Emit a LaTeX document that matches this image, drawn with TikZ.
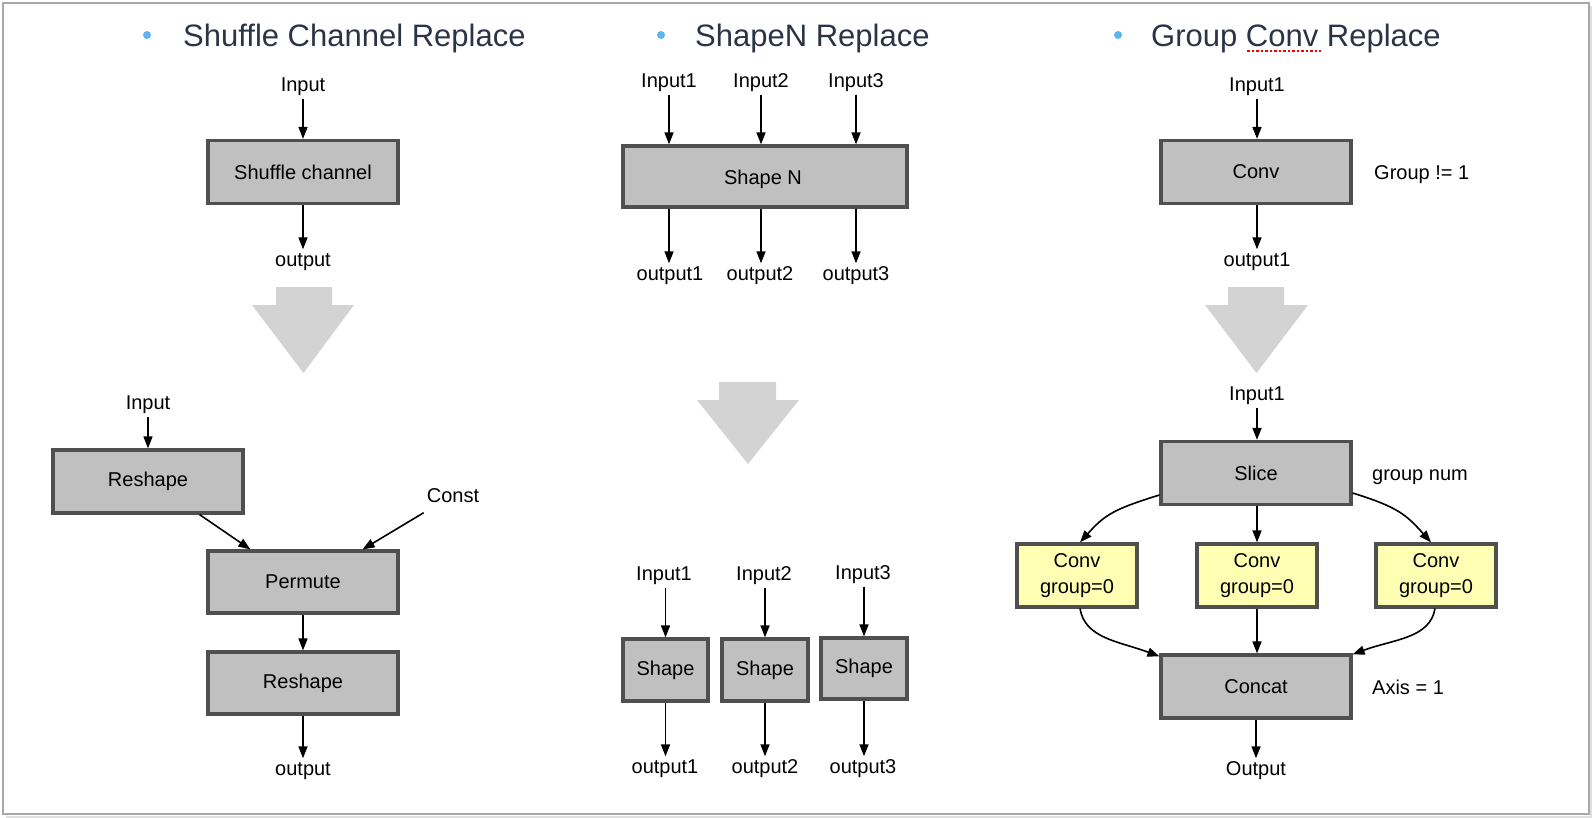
\documentclass[tikz,border=0pt]{standalone}
\usepackage{fontspec}
\setmainfont{Liberation Sans}
\usetikzlibrary{arrows.meta}
\definecolor{boxfill}{HTML}{C0C0C0}
\definecolor{boxline}{HTML}{4F4F4F}
\definecolor{yelfill}{HTML}{FFFFB3}
\definecolor{bigarrow}{HTML}{D3D3D3}
\definecolor{titlecol}{HTML}{2B3447}
\definecolor{bulletcol}{HTML}{5BB5F2}
\definecolor{framecol}{HTML}{A8A8A8}
\newcommand{\labsize}{\fontsize{20}{24}\selectfont}
\newcommand{\titsize}{\fontsize{31}{36}\selectfont}
\tikzset{
  opbox/.style={draw=boxline, fill=boxfill, line width=3.2pt, inner sep=0pt,
    minimum width=190pt, minimum height=63pt, font=\labsize, align=center},
  yelbox/.style={opbox, fill=yelfill, minimum width=120pt, minimum height=63pt},
  lbl/.style={font=\labsize, text height=14pt, text depth=4pt, inner sep=3pt, yshift=-2.5pt},
  sidelbl/.style={lbl, anchor=west, inner sep=0pt},
  arr/.style={-{Triangle[length=12pt,width=9pt]}, line width=1.6pt, black},
  bigarr/.style={fill=bigarrow, draw=none},
  titletext/.style={font=\titsize, text=titlecol, anchor=base west, inner sep=0pt},
  bulletdot/.style={fill=bulletcol},
}
\begin{document}
\begin{tikzpicture}[x=1pt, y=-1pt]
\useasboundingbox (0,0) rectangle (1592,818);
% frame with shadow
\draw[gray!25, line width=2.5pt] (6,817) -- (1591.5,817) -- (1591.5,6);
\draw[framecol, line width=1.6pt] (3,3) rectangle (1589,814);

% titles
\fill[bulletdot] (147,35) circle (4pt);
\node[titletext] (t1) at (183,47) {Shuffle Channel Replace};
\fill[bulletdot] (661,35) circle (4pt);
\node[titletext] (t2) at (695,47) {ShapeN Replace};
\fill[bulletdot] (1118,35) circle (4pt);
\node[titletext] (t3) at (1151,47) {Group Conv Replace};
\draw[red, line width=1.6pt, dash pattern=on 2.5pt off 2pt] (1247,51) -- (1321,51);

% ===== Panel 1: Shuffle Channel =====
\node[lbl] (p1in) at (303,84) {Input};
\node[opbox] (shuf) at (303,172) {Shuffle channel};
\node[lbl] (p1out) at (303,259) {output};
\draw[arr] (p1in) -- (shuf);
\draw[arr] (shuf) -- (p1out);
\fill[bigarr] (276,287) -- (332,287) -- (332,305) -- (354,305) -- (303.5,373) -- (252,305) -- (276,305) -- cycle;

\node[lbl] (p1bin) at (148,402) {Input};
\node[opbox] (resh1) at (148,481.5) {Reshape};
\node[lbl] (const) at (453,495) {Const};
\node[opbox, minimum height=62pt] (perm) at (303,582) {Permute};
\node[opbox, minimum height=62pt] (resh2) at (303,683) {Reshape};
\node[lbl] (p1bout) at (303,768) {output};
\draw[arr] (p1bin) -- (resh1);
\draw[arr] ([xshift=-45pt]resh1.south east) -- ([xshift=44pt]perm.north west);
\draw[arr] ([yshift=-3pt]const.south west) -- ([xshift=-37pt]perm.north east);
\draw[arr] (perm) -- (resh2);
\draw[arr] (resh2) -- (p1bout);

% ===== Panel 2: ShapeN =====
\node[lbl] (sin1) at (669,80) {Input1};
\node[lbl] (sin2) at (761,80) {Input2};
\node[lbl] (sin3) at (856,80) {Input3};
\node[opbox, minimum width=284pt, minimum height=61pt] (shapen) at (765,176.5) {};
\node[lbl] (shapentxt) at (763,177) {Shape N};
\node[lbl] (sout1) at (670,273) {output1};
\node[lbl] (sout2) at (760,273) {output2};
\node[lbl] (sout3) at (856,273) {output3};
\foreach \i in {1,2,3}{
  \draw[arr] (sin\i.south) -- (sin\i.south |- shapen.north);
  \draw[arr] (sin\i.south |- shapen.south) -- (sin\i.south |- sout\i.north);
}
\fill[bigarr] (719,382) -- (776,382) -- (776,400) -- (799,400) -- (748,464) -- (697,400) -- (719,400) -- cycle;

\node[lbl] (bin1) at (664,573) {Input1};
\node[lbl] (bin2) at (764,573) {Input2};
\node[lbl] (bin3) at (863,572) {Input3};
\node[opbox, minimum width=85pt, minimum height=62pt] (sh1) at (665.5,670) {Shape};
\node[opbox, minimum width=86pt, minimum height=62pt] (sh2) at (765,670) {Shape};
\node[opbox, minimum width=86pt, minimum height=61pt] (sh3) at (864,668.5) {Shape};
\node[lbl] (bout1) at (665,766) {output1};
\node[lbl] (bout2) at (765,766) {output2};
\node[lbl] (bout3) at (863,766) {output3};
\foreach \i in {1,2,3}{
  \draw[arr] (bin\i.south -| sh\i.north) -- (sh\i.north);
  \draw[arr] (sh\i.south) -- (sh\i.south |- bout\i.north);
}

% ===== Panel 3: Group Conv =====
\node[lbl] (gin1) at (1257,84) {Input1};
\node[opbox] (gconv) at (1256,172) {Conv};
\node[sidelbl] (grp) at (1374,172) {Group != 1};
\node[lbl] (gout1) at (1257,259) {output1};
\draw[arr] (gin1.south) -- (gin1.south |- gconv.north);
\draw[arr] (gin1.south |- gconv.south) -- (gout1.north);
\fill[bigarr] (1228,287) -- (1284,287) -- (1284,305) -- (1308,305) -- (1256.5,373) -- (1205,305) -- (1228,305) -- cycle;

\node[lbl] (gin2) at (1257,393) {Input1};
\node[opbox] (slice) at (1256,473) {Slice};
\node[sidelbl] (gnum) at (1372,473) {group num};
\node[yelbox] (cv1) at (1077,575.5) {Conv\\[2pt]group=0};
\node[yelbox] (cv2) at (1257,575.5) {Conv\\[2pt]group=0};
\node[yelbox] (cv3) at (1436,575.5) {Conv\\[2pt]group=0};
\node[opbox] (concat) at (1256,686.5) {Concat};
\node[sidelbl] (axis) at (1372,687) {Axis = 1};
\node[lbl] (gout2) at (1256,768) {Output};

\draw[arr] (gin2.south) -- (gin2.south |- slice.north);
\draw[arr] ([yshift=-22pt]slice.west) .. controls +(-45,14) and +(25,-28) .. ([xshift=3pt]cv1.north);
\draw[arr] (cv2.north |- slice.south) -- (cv2.north);
\draw[arr] ([yshift=-20pt]slice.east) .. controls +(45,14) and +(-25,-28) .. ([xshift=-5pt]cv3.north);
\draw[arr] ([xshift=3pt]cv1.south) .. controls +(5,30) and +(-40,-15) .. ([yshift=-3pt]concat.north west);
\draw[arr] (cv2.south) -- (cv2.south |- concat.north);
\draw[arr] ([xshift=-1pt]cv3.south) .. controls +(-5,30) and +(40,-15) .. ([yshift=-1pt]concat.north east);
\draw[arr] (concat.south) -- (concat.south |- gout2.north);
\end{tikzpicture}
\end{document}
